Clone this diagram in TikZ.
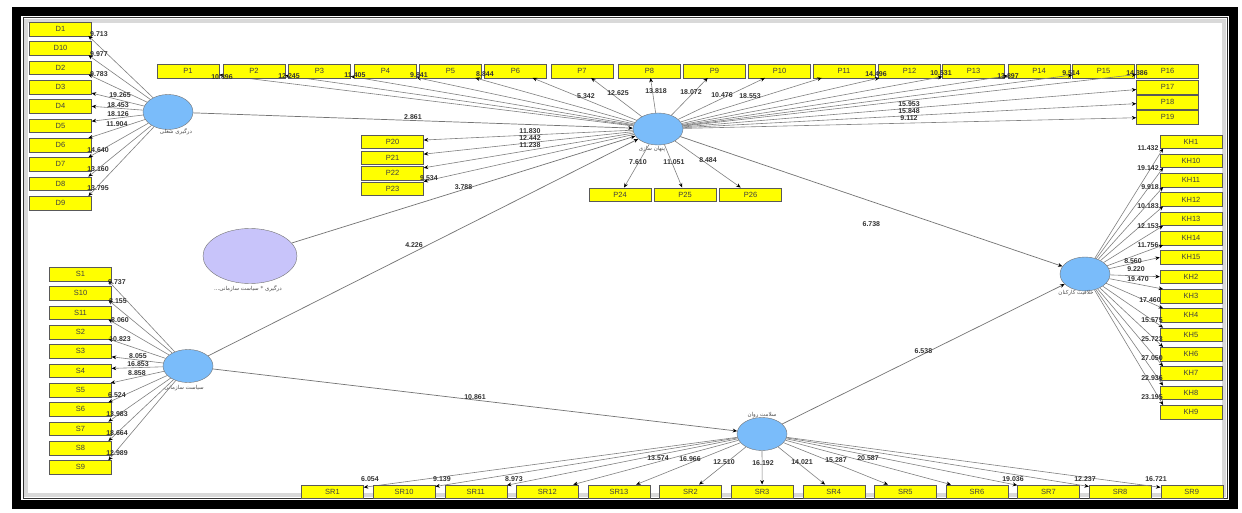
\documentclass[tikz,border=0pt]{standalone}
\usepackage{fontspec}
\setmainfont{Liberation Sans}
\newfontfamily\farsi[Script=Arabic]{DejaVu Sans}
\TeXXeTstate=1
\usetikzlibrary{positioning,shapes.geometric,arrows.meta}

\definecolor{lvblue}{RGB}{122,188,250}
\definecolor{lvlilac}{RGB}{200,196,250}
\definecolor{indyel}{RGB}{255,255,0}

\pgfdeclarelayer{front}
\pgfsetlayers{main,front}

\begin{document}
\begin{tikzpicture}[
        x=1pt, y=-1pt,
        >={Stealth[length=4.5pt,width=3.8pt,color=black]},
        lv/.style={ellipse, draw=black!55, fill=lvblue, minimum width=50pt, minimum height=34pt, inner sep=0pt},
        ind/.style={rectangle, draw=black!65, fill=indyel, minimum width=62pt, minimum height=13.5pt, inner sep=0pt, font=\fontsize{7.5}{8}\selectfont, text=black!75},
        load/.style={->, draw=black!50, line width=0.6pt},
        struct/.style={->, draw=black!55, line width=0.7pt},
        val/.style={font=\fontsize{7}{8}\selectfont\bfseries, text=black!80, inner sep=0pt},
        lvtext/.style={font=\farsi\fontsize{5.5}{6}\selectfont, text=black!70, inner sep=0pt}
    ]
        \useasboundingbox (0,0) rectangle (1242,513);

        % Frame
        \fill[black] (12,7) rectangle (1238,509);
        \fill[white] (21,16) rectangle (1229,500);
        \draw[black!80, line width=1pt] (23,18) rectangle (1227,498);
        \draw[black!15, line width=4pt] (26,21) rectangle (1224,495);

        % Latent variables
        \node[lv, minimum height=35pt] (D) at (168,112) {};
        \node[lv, minimum height=32pt] (P) at (658,129) {};
        \node[lv, minimum height=33pt] (S) at (188,366) {};
        \node[lv, fill=lvlilac, minimum width=94pt, minimum height=55pt] (M) at (250,256) {};
        \node[lv] (KH) at (1085,274) {};
        \node[lv, minimum height=33pt] (SR) at (762,434) {};

        \node[lvtext] (Dname) at (176,132) {\beginR درگیری شغلی\endR};
        \node[lvtext] (Pname) at (652,149) {\beginR پنهان سازی\endR};
        \node[lvtext] (Sname) at (184,388) {\beginR سیاست سازمانی\endR};
        \node[lvtext] (Mname) at (248,289) {\beginR درگیری * سیاست سازمانی...\endR};
        \node[lvtext] (KHname) at (1076,293) {\beginR خلاقیت کارکنان\endR};
        \node[lvtext] (SRname) at (762,415) {\beginR سلامت روان\endR};

        % Inner model
        \draw[struct] (D) -- node[val, above=1pt] (cDP) {2.861} (P);
        \draw[struct] (S) -- node[val, above left=0pt] (cSP) {4.226} (P);
        \draw[struct] (M) -- node[val, above=0pt] (cMP) {3.788} (P);
        \draw[struct] (P) -- node[val, below=20pt] (cPK) {6.738} (KH);
        \draw[struct] (S) -- node[val, above=0pt] (cSSR) {10.861} (SR);
        \draw[struct] (SR) -- node[val, above=0pt] (cSRK) {6.538} (KH);

        % D indicators
        \foreach \n/\y/\an/\val/\lx/\ly in {D1/29/346/9.713/99/34, D10/48.3/346/9.977/99/54, D2/67.6/346/9.783/99/74, D3/87/349/19.265/120/95, D4/106.3/0/18.453/118/105, D5/125.6/8/18.126/118/114, D6/145/14/11.904/117/124, D7/164.3/14/14.640/98/150, D8/183.6/14/13.160/98/169, D9/203/14/13.795/98/188}{
            \node[ind] (\n) at (60.5,\y) {\n};
            \draw[load] (D) -- (\n.\an);
            \begin{pgfonlayer}{front}
                \node[val] (v\n) at (\lx,\ly) {\val};
            \end{pgfonlayer}
        }

        % S indicators
        \foreach \n/\y/\an/\val/\lx/\ly in {S1/274/346/9.737/117/282, S10/293.3/346/8.155/118/301, S11/312.6/346/8.060/120/320, S2/332/346/10.823/120/339, S3/351.3/350/8.055/138/356, S4/370.6/4/16.853/138/364, S5/390/13/8.858/137/373, S6/409.3/14/6.524/117/395, S7/428.6/14/13.983/117/414, S8/448/14/18.664/117/433, S9/467.3/14/12.989/117/453}{
            \node[ind] (\n) at (80.5,\y) {\n};
            \draw[load] (S) -- (\n.\an);
            \begin{pgfonlayer}{front}
                \node[val] (v\n) at (\lx,\ly) {\val};
            \end{pgfonlayer}
        }

        % KH indicators
        \foreach \n/\y/\an/\val/\lx/\ly in {KH1/141.5/194/11.432/1148/148, KH10/160.8/194/19.142/1148/168, KH11/180.1/194/9.918/1150/187, KH12/199.4/194/10.183/1148/206, KH13/218.8/194/12.153/1148/226, KH14/238.1/194/11.756/1148/245, KH15/257.4/180/8.560/1133/261, KH2/276.7/180/9.220/1136/269, KH3/296/166/19.470/1138/279, KH4/315.3/166/17.460/1150/300, KH5/334.6/166/15.575/1152/320, KH6/354/166/25.723/1152/339, KH7/373.3/166/27.050/1152/358, KH8/392.6/166/22.936/1152/378, KH9/412/166/23.195/1152/397}{
            \node[ind] (\n) at (1191,\y) {\n};
            \draw[load] (KH) -- (\n.\an);
            \begin{pgfonlayer}{front}
                \node[val] (v\n) at (\lx,\ly) {\val};
            \end{pgfonlayer}
        }

        % P indicators, top row
        \foreach \n/\x/\val/\lx/\ly in {P1/188/10.896/222/77, P2/254/12.245/289/76, P3/319.5/11.405/355/75, P4/385.5/9.841/419/75, P5/450.5/8.844/485/74, P6/515.5/5.342/586/96, P7/582/12.625/618/93, P8/649.5/13.818/656/91, P9/714.5/18.072/691/92, P10/779.5/10.476/722/95, P11/844/18.553/750/96, P12/909.5/14.496/876/74, P13/973.5/10.531/941/73, P14/1039/13.897/1008/76, P15/1103.5/9.514/1071/73, P16/1167.5/14.386/1137/73}{
            \node[ind] (\n) at (\x,71) {\n};
            \draw[load] (P) -- (\n);
            \begin{pgfonlayer}{front}
                \node[val] (v\n) at (\lx,\ly) {\val};
            \end{pgfonlayer}
        }

        % P indicators, right, left and below
        \foreach \n/\x/\y/\val/\lx/\ly in {P17/1167.5/87/15.953/909/104, P18/1167.5/102/15.848/909/111, P19/1167.5/117/9.112/909/118, P20/392.5/141.5/11.830/530/131, P21/392.5/157.5/12.442/530/138, P22/392.5/173/11.238/530/145, P23/392.5/188.5/9.534/429/178, P24/620/194.5/7.610/638/162, P25/685/194.5/11.051/674/162, P26/750.5/194.5/8.484/708/160}{
            \node[ind] (\n) at (\x,\y) {\n};
            \draw[load] (P) -- (\n);
            \begin{pgfonlayer}{front}
                \node[val] (v\n) at (\lx,\ly) {\val};
            \end{pgfonlayer}
        }

        % SR indicators
        \foreach \n/\x/\val/\lx/\ly in {SR1/332.5/6.054/370/479, SR10/404.1/9.139/442/479, SR11/475.7/8.973/514/479, SR12/547.3/13.574/658/458, SR13/618.9/16.966/690/459, SR2/690.5/12.510/724/462, SR3/762.1/16.192/763/463, SR4/833.7/14.021/802/462, SR5/905.3/15.287/836/460, SR6/976.9/20.587/868/458, SR7/1048.5/19.036/1013/479, SR8/1120.1/12.237/1085/479, SR9/1191.7/16.721/1156/479}{
            \node[ind] (\n) at (\x,491.5) {\n};
            \draw[load] (SR) -- (\n);
            \begin{pgfonlayer}{front}
                \node[val] (v\n) at (\lx,\ly) {\val};
            \end{pgfonlayer}
        }
    \end{tikzpicture}
\end{document}
